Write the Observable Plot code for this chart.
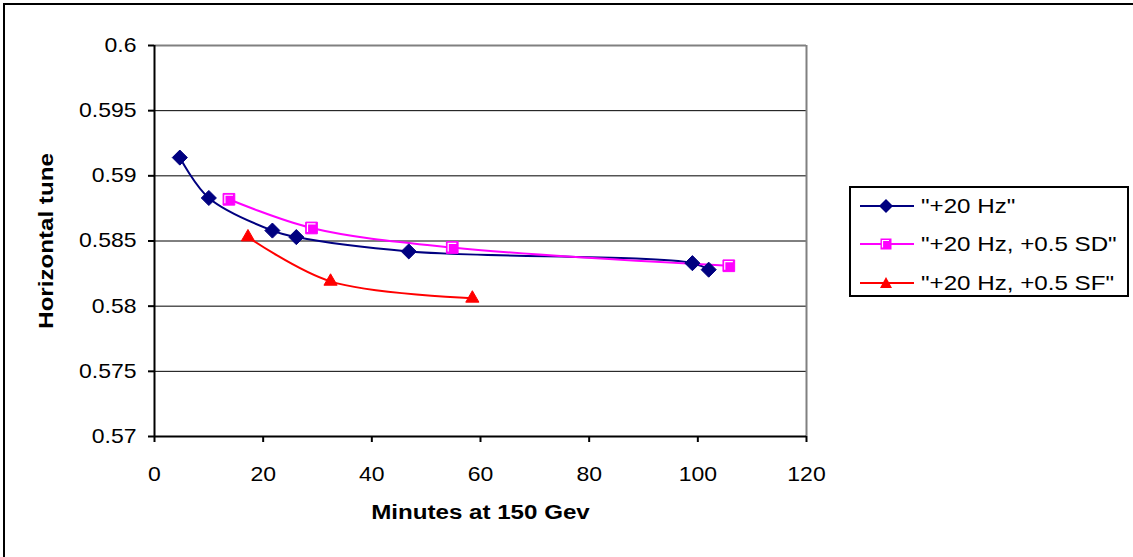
<!DOCTYPE html>
<html>
<head>
<meta charset="utf-8">
<script src="https://cdn.jsdelivr.net/npm/d3@7"></script>
<script src="https://cdn.jsdelivr.net/npm/@observablehq/plot@0.6"></script>
<style>
  body { margin: 0; background: #fff; }
  #wrap { position: relative; width: 1133px; height: 557px; overflow: hidden; font-family: "Liberation Sans", Arial, sans-serif; }
  #border { position: absolute; left: 3px; top: 3px; width: 1200px; height: 600px; border-left: 2px solid #000; border-top: 2px solid #000; pointer-events: none; }
  #legend { position: absolute; left: 849px; top: 186px; width: 276px; height: 107px; border: 2px solid #000; background: #fff; font-size: 21px; }
  .row { position: absolute; left: 8px; height: 26px; display: flex; align-items: center; white-space: nowrap; }
  .row svg { margin-right: 6px; flex: none; }
  .row span { display: inline-block; transform: scaleX(1.15); transform-origin: left center; }
</style>
</head>
<body>
<div id="wrap"><div id="border"></div><div id="chart"></div><div id="legend"></div></div>
<script>
// Data
const seriesNames = ['"+20 Hz"', '"+20 Hz, +0.5 SD"', '"+20 Hz, +0.5 SF"'];
const hz20Minutes = [4.66, 10.0, 21.7, 26.1, 46.8, 99.0, 102.0];
const hz20Tune    = [0.5914, 0.5883, 0.5858, 0.5853, 0.5842, 0.5833, 0.5828];
const sdMinutes   = [13.7, 28.9, 54.8, 105.7];
const sdTune      = [0.5882, 0.5860, 0.5845, 0.5831];
const sfMinutes   = [17.2, 32.4, 58.5];
const sfTune      = [0.5853, 0.5819, 0.5806];
const yTicks = [0.57, 0.575, 0.58, 0.585, 0.59, 0.595, 0.6];
const xTicks = [0, 20, 40, 60, 80, 100, 120];
const gridTicks = [0.575, 0.58, 0.585, 0.59, 0.595];

const colors = ["#000080", "#FF00FF", "#FF0000"];

const mk = (xs, ys, s) => xs.map((x, i) => ({x, y: ys[i], s}));
const hz20 = mk(hz20Minutes, hz20Tune, seriesNames[0]);
const sd = mk(sdMinutes, sdTune, seriesNames[1]);
const sf = mk(sfMinutes, sfTune, seriesNames[2]);

// highlight stroke for the square marker (Excel-like)
const highlight = {
  draw(context, size) {
    const w = Math.sqrt(size) / 2 - 1.8;
    context.moveTo(-w, w);
    context.lineTo(-w, -w);
    context.lineTo(w, -w);
  }
};

const chart = Plot.plot({
  width: 1133,
  height: 557,
  marginLeft: 154,
  marginRight: 327,
  marginTop: 45,
  marginBottom: 121,
  style: { fontFamily: '"Liberation Sans", Arial, sans-serif', fontSize: "20px", color: "#000", background: "transparent" },
  x: { domain: [0, 120], ticks: xTicks, label: null },
  y: { domain: [0.57, 0.6], ticks: yTicks, label: null },
  marks: [
    Plot.ruleY(gridTicks, { stroke: "#000", strokeWidth: 1 }),
    Plot.ruleY([0.6], { stroke: "#808080", strokeWidth: 2 }),
    Plot.ruleX([120], { stroke: "#808080", strokeWidth: 2 }),
    Plot.axisX({ ticks: xTicks, tickSize: 6, tickPadding: 24, tickFormat: d => String(d), stroke: "#000", strokeWidth: 2, label: null, fontSize: 20 }),
    Plot.axisY({ ticks: yTicks, tickSize: 6, tickPadding: 12, tickFormat: d => String(+d.toFixed(3)), stroke: "#000", strokeWidth: 2, label: null, fontSize: 20 }),
    Plot.ruleX([0], { stroke: "#000", strokeWidth: 2 }),
    Plot.ruleY([0.57], { stroke: "#000", strokeWidth: 2 }),
    Plot.line(hz20, { x: "x", y: "y", stroke: colors[0], strokeWidth: 2, curve: "catmull-rom" }),
    Plot.line(sd, { x: "x", y: "y", stroke: colors[1], strokeWidth: 2, curve: "catmull-rom" }),
    Plot.line(sf, { x: "x", y: "y", stroke: colors[2], strokeWidth: 2, curve: "catmull-rom" }),
    Plot.dot(hz20, { x: "x", y: "y", symbol: "diamond2", r: 6.8, fill: colors[0], stroke: colors[0], strokeWidth: 1 }),
    Plot.dot(sd, { x: "x", y: "y", symbol: "square", r: 6.6, fill: colors[1], stroke: colors[1], strokeWidth: 1 }),
    Plot.dot(sd, { x: "x", y: "y", symbol: highlight, r: 6.6, fill: "none", stroke: "#fff", strokeWidth: 1.2 }),
    Plot.dot(sf, { x: "x", y: "y", symbol: "triangle", r: 4.9, fill: colors[2], stroke: colors[2], strokeWidth: 1 }),
    Plot.text(["Minutes at 150 Gev"], { frameAnchor: "bottom", dy: 82, fontWeight: "bold", fontSize: 21, textAnchor: "middle" }),
    Plot.text(["Horizontal tune"], { frameAnchor: "left", dx: -108, rotate: -90, fontWeight: "bold", fontSize: 21, textAnchor: "middle" })
  ]
});
document.getElementById("chart").appendChild(chart);

// Widen glyphs along the text direction to match the reference's wide rendering
const stretch = 1.15;
chart.querySelectorAll("text").forEach(t => {
  const bb = t.getBBox();
  const anchor = getComputedStyle(t).textAnchor;
  const ax = anchor === "end" ? bb.x + bb.width : anchor === "middle" ? bb.x + bb.width / 2 : bb.x;
  const prev = t.getAttribute("transform") || "";
  t.setAttribute("transform", `${prev} translate(${ax},0) scale(${stretch},1) translate(${-ax},0)`.trim());
});

// Legend
const legend = document.getElementById("legend");
const symbolPaths = [
  '<path d="M27,3 L34,10 L27,17 L20,10 Z" fill="#000080"/>',
  '<rect x="21.5" y="4.5" width="11" height="11" fill="#FF00FF"/><path d="M23.5,13.5 L23.5,6.5 L30,6.5" stroke="#fff" stroke-width="1.2" fill="none"/>',
  '<path d="M27,4 L33,15 L21,15 Z" fill="#FF0000"/>'
];
const rowTops = [5, 43, 82];
seriesNames.forEach((name, i) => {
  const row = document.createElement("div");
  row.className = "row";
  row.style.top = rowTops[i] + "px";
  row.innerHTML = `<svg width="56" height="20"><line x1="1" x2="55" y1="10" y2="10" stroke="${colors[i]}" stroke-width="2"/>${symbolPaths[i]}</svg><span>${name}</span>`;
  legend.appendChild(row);
});
</script>
</body>
</html>
